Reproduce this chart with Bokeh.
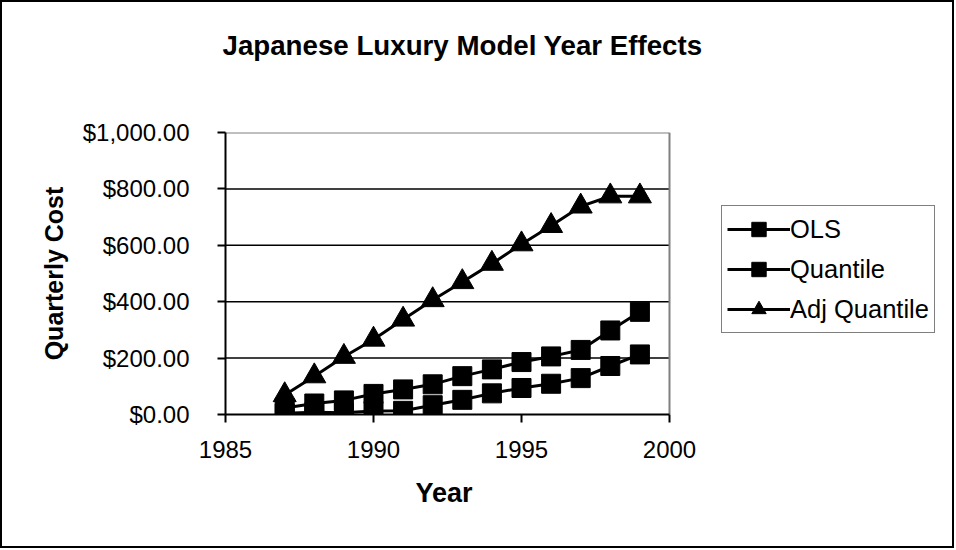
from bokeh.plotting import figure
from bokeh.models import (Legend, LegendItem, NumeralTickFormatter, FixedTicker,
                          Range1d, Title)
from bokeh.embed import file_html
from bokeh.resources import INLINE

# ---- data ----
years = [1987, 1988, 1989, 1990, 1991, 1992, 1993, 1994, 1995, 1996, 1997, 1998, 1999]
ols = [23, 39, 50, 73, 89, 107, 136, 160, 186, 206, 229, 298, 364]
quantile = [4, 8, 6, 12, 13, 33, 52, 75, 94, 109, 129, 172, 213]
adj_quantile = [69, 136, 205, 266, 337, 406, 470, 535, 604, 669, 738, 774, 774]
x_ticks = [1985, 1990, 1995, 2000]
y_ticks = [0, 200, 400, 600, 800, 1000]
grid_ticks = [200, 400, 600, 800]

FONT = "Liberation Sans"

# layout in pixels: plot area 223..667 (x), frame extended right so the legend fits
W, H = 954, 548
FRAME_L, PLOT_R, FRAME_R = 223, 667, 944
x0, x1 = x_ticks[0], x_ticks[-1]
x_end = x0 + (x1 - x0) * (FRAME_R - FRAME_L) / (PLOT_R - FRAME_L)

p = figure(width=W, height=H, output_backend="svg", toolbar_location=None,
           x_range=Range1d(x0, x_end), y_range=Range1d(y_ticks[0], y_ticks[-1]),
           min_border_left=FRAME_L, min_border_right=W - FRAME_R,
           min_border_top=130, min_border_bottom=136,
           background_fill_color="white", border_fill_color="white")
p.styles = {"border": "2px solid black"}
p.outline_line_color = None

# spacer (nearest the frame) then the real title above it
p.add_layout(Title(text=" ", text_font_size="1px", standoff=64), "above")
p.add_layout(Title(text="Japanese Luxury Model Year Effects", align="left", offset=-3,
                   text_font=FONT, text_font_size="27.7px", text_font_style="bold",
                   text_color="black"), "above")

# grid lines and plot-area border (only across the plot area)
p.xgrid.visible = False
p.ygrid.visible = False
p.segment(x0=[x0] * len(grid_ticks), x1=[x1] * len(grid_ticks),
          y0=grid_ticks, y1=grid_ticks, line_color="black", line_width=1.5)
p.segment(x0=[x0, x1], x1=[x1, x1], y0=[y_ticks[-1], y_ticks[0]],
          y1=[y_ticks[-1], y_ticks[-1]], line_color="#808080", line_width=2)

# x axis
p.xaxis.ticker = FixedTicker(ticks=x_ticks, minor_ticks=[])
p.xaxis.bounds = (x0, x1)
p.xaxis.major_label_standoff = 18

# x axis title, centred under the plot area (not the extended frame)
p.add_layout(Title(text="Year", align="left", offset=190, standoff=30,
                   text_font=FONT, text_font_size="27px", text_font_style="bold",
                   text_color="black"), "below")

# y axis
p.yaxis.ticker = FixedTicker(ticks=y_ticks, minor_ticks=[])
p.yaxis.formatter = NumeralTickFormatter(format="$0,0.00")
p.yaxis.axis_label = "Quarterly Cost"
p.yaxis.axis_label_standoff = 12
p.yaxis.major_label_standoff = 28

for ax in (p.xaxis[0], p.yaxis[0]):
    ax.axis_line_color = "black"
    ax.axis_line_width = 2
    ax.major_tick_line_color = "black"
    ax.major_tick_line_width = 2
    ax.major_tick_in = 0
    ax.major_tick_out = 8
    ax.minor_tick_line_color = None
    ax.major_label_text_font = FONT
    ax.major_label_text_font_size = "24px"
    ax.major_label_text_color = "black"
    ax.axis_label_text_font = FONT
    ax.axis_label_text_font_style = "bold"
    ax.axis_label_text_color = "black"
p.yaxis.axis_label_text_font_size = "25px"

# series
l1 = p.line(years, ols, line_width=3, color="black")
s1 = p.scatter(years, ols, marker="square", size=19, color="black")
l2 = p.line(years, quantile, line_width=3, color="black")
s2 = p.scatter(years, quantile, marker="square", size=19, color="black")
l3 = p.line(years, adj_quantile, line_width=3, color="black")
s3 = p.scatter(years, adj_quantile, marker="triangle", size=23, color="black")

legend = Legend(items=[LegendItem(label="OLS", renderers=[l1, s1]),
                       LegendItem(label="Quantile", renderers=[l2, s2]),
                       LegendItem(label="Adj Quantile", renderers=[l3, s3])],
                location=(719 - FRAME_L, 412 - 331), margin=0, padding=5, spacing=4,
                glyph_width=63, glyph_height=36, label_height=36,
                label_standoff=0,
                label_text_font=FONT, label_text_font_size="25.5px",
                label_text_color="black",
                border_line_color="black", border_line_width=1.5,
                background_fill_color="white", background_fill_alpha=1)
p.add_layout(legend, "center")

open("out.html", "w").write(file_html(p, INLINE))
